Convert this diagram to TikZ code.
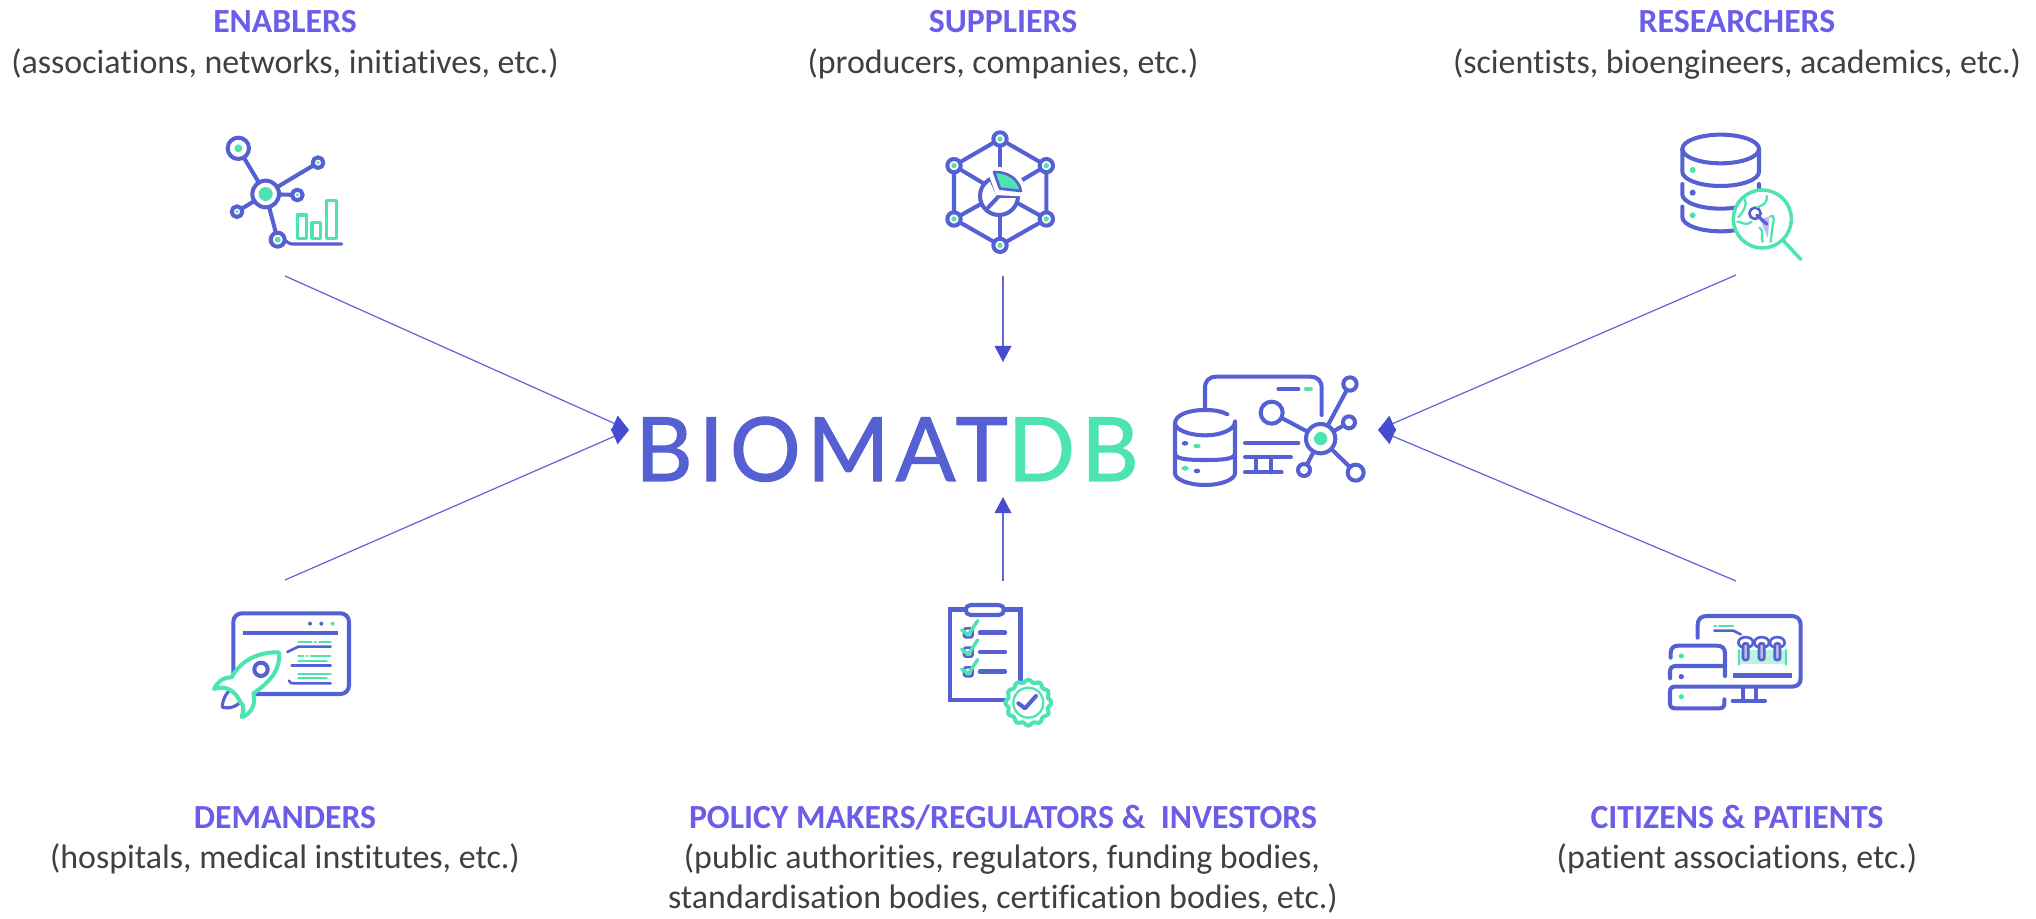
\documentclass[tikz,border=0pt]{standalone}
\usepackage{fontspec}
\setmainfont[Ligatures=NoCommon]{Carlito}
\newfontfamily\logofont[LetterSpace=7,FakeBold=1.2]{Lato}
\usetikzlibrary{arrows.meta}
\definecolor{iconblue}{RGB}{85,97,210}
\definecolor{icongreen}{RGB}{78,228,178}
\definecolor{titleblue}{RGB}{107,93,232}
\definecolor{subgray}{RGB}{64,64,64}
\definecolor{tipblue}{RGB}{68,76,208}
\definecolor{implant}{RGB}{184,190,236}
\tikzset{
  titletext/.style={anchor=base,inner sep=0pt,text=titleblue,font=\fontsize{9.6pt}{11pt}\selectfont\bfseries},
  subtext/.style={anchor=base,inner sep=0pt,text=subgray,font=\fontsize{9.65pt}{11pt}\selectfont},
  link/.style={draw=tipblue!85,line width=.35pt,-{Triangle[length=4.6pt,width=4.8pt,color=tipblue]}},
  iconline/.style={draw=iconblue,line width=1.15pt,line cap=round,line join=round},
  iconthin/.style={draw=iconblue,line width=.75pt,line cap=round,line join=round},
  greenline/.style={draw=icongreen,line width=1pt,line cap=round,line join=round},
  greenthin/.style={draw=icongreen,line width=.65pt,line cap=round,line join=round},
}
\begin{document}
\begin{tikzpicture}[x=0.01cm,y=-0.01cm]
    \useasboundingbox (0,0) rectangle (2036,919);

    % labels
    \node[titletext] (enablers) at (285,33) {ENABLERS};
    \node[subtext] (enablerssub) at (285,74) {(associations, networks, initiatives, etc.)};
    \node[titletext] (suppliers) at (1003,33) {SUPPLIERS};
    \node[subtext] (supplierssub) at (1003,74) {(producers, companies, etc.)};
    \node[titletext] (researchers) at (1737,33) {RESEARCHERS};
    \node[subtext] (researcherssub) at (1737,74) {(scientists, bioengineers, academics, etc.)};
    \node[titletext] (demanders) at (285,828) {DEMANDERS};
    \node[subtext] (demanderssub) at (285,869) {(hospitals, medical institutes, etc.)};
    \node[titletext] (policy) at (1003,828) {POLICY MAKERS/REGULATORS \&\ \ INVESTORS};
    \node[subtext] (policysuba) at (1002,869) {(public authorities, regulators, funding bodies,};
    \node[subtext] (policysubb) at (1003,908) {standardisation bodies, certification bodies, etc.)};
    \node[titletext] (citizens) at (1737,828) {CITIZENS \& PATIENTS};
    \node[subtext] (citizenssub) at (1737,869) {(patient associations, etc.)};

    % logo
    \node[anchor=base,inner sep=0pt,text=iconblue,font=\logofont\fontsize{25.2pt}{27pt}\selectfont] (logo) at (887,481) {BIOMAT\textcolor{icongreen}{DB}};

    % connectors
    \coordinate (hubleft) at (629,430);
    \coordinate (hubright) at (1378,430);
    \coordinate (hubtop) at (1003,362);
    \coordinate (hubbottom) at (1003,497);
    \coordinate (enablersout) at (285,276);
    \coordinate (demandersout) at (285,580);
    \coordinate (researchersout) at (1736,275);
    \coordinate (citizensout) at (1736,581);
    \coordinate (suppliersout) at (1003,276);
    \coordinate (policyout) at (1003,581);
    \draw[link] (enablersout) -- (hubleft);
    \draw[link] (demandersout) -- (hubleft);
    \draw[link] (researchersout) -- (hubright);
    \draw[link] (citizensout) -- (hubright);
    \draw[link] (suppliersout) -- (hubtop);
    \draw[link] (policyout) -- (hubbottom);

    % enablers icon
    \begin{scope}[shift={(180,110)},scale=1/3]
        \foreach \px/\py/\pr/\pg in {175/115/32/12, 414/158/16/5, 352/255/16/5, 171/305/16/5, 293/389/21/9} {
            \draw[iconline] (257,252) -- (\px,\py);
            \draw[iconline,fill=white] (\px,\py) circle (\pr);
            \fill[icongreen] (\px,\py) circle (\pg);
        }
        \draw[iconline,fill=white] (257,252) circle (40);
        \fill[icongreen] (257,252) circle (21);
        \draw[iconline,line width=.9pt] (316,392) .. controls (330,402) .. (345,402) -- (485,402);
        \draw[greenline] (352,315) rectangle (380,385);
        \draw[greenline] (396,338) rectangle (422,385);
        \draw[greenline] (440,272) rectangle (470,385);
    \end{scope}

    % suppliers icon
    \begin{scope}[shift={(920,110)},scale=1/3]
        \draw[iconline] (240,87) -- (379,167) -- (379,327) -- (240,406) -- (102,327) -- (102,167) -- cycle;
        \foreach \px/\py in {240/87, 379/167, 379/327, 240/406, 102/327, 102/167} {
            \draw[iconline] (240,250) -- (\px,\py);
            \draw[iconline,fill=white] (\px,\py) circle (20);
            \fill[icongreen] (\px,\py) circle (8);
        }
        \draw[iconline,fill=white] (237,258) circle (57);
        \draw[iconline] (237,258) -- (205,292);
        \draw[iconline] (237,258) -- (292,258);
        \draw[iconline] (237,258) -- (212,205);
        \draw[white,line width=3pt,fill=white] (240,240) -- (220,186) .. controls (262,185) and (295,205) .. (303,243) -- cycle;
        \draw[iconthin,fill=icongreen] (240,236) -- (222,186) .. controls (262,185) and (295,205) .. (303,243) -- cycle;
    \end{scope}

    % researchers icon
    \begin{scope}[shift={(1650,110)},scale=1/3]
        \draw[iconline] (212,117) circle[x radius=115,y radius=43];
        \draw[iconline] (97,117) -- (97,185) .. controls (97,209) and (149,228) .. (212,228) .. controls (275,228) and (327,209) .. (327,185) -- (327,117);
        \draw[iconline] (97,222) -- (97,253) .. controls (97,277) and (149,296) .. (212,296) .. controls (275,296) and (327,277) .. (327,253) -- (327,222);
        \draw[iconline] (97,290) -- (97,321) .. controls (97,345) and (149,364) .. (212,364) .. controls (275,364) and (327,345) .. (327,321) -- (327,290);
        \fill[icongreen] (128,180) circle (9);
        \fill[iconblue] (128,248) circle (9);
        \fill[icongreen] (128,316) circle (9);
        \draw[greenline,fill=white] (337,327) circle (87);
        \draw[greenline] (400,392) -- (452,448);
        \fill[implant] (330,328) -- (358,320) -- (354,385) -- cycle;
        \draw[iconthin] (315,310) circle (17);
        \draw[iconthin,line width=.9pt] (320,315) -- (350,342);
        \draw[greenthin] (350,258) .. controls (352,280) and (340,285) .. (322,292);
        \draw[greenthin] (285,268) .. controls (292,285) and (280,305) .. (265,322);
        \draw[greenthin] (262,335) .. controls (275,335) and (285,350) .. (305,335);
        \draw[greenthin] (328,352) .. controls (345,365) and (330,380) .. (338,396);
        \draw[greenthin] (360,320) .. controls (375,310) and (372,335) .. (368,345) -- (362,396);
    \end{scope}

    % demanders icon
    \begin{scope}[shift={(190,590)},scale=1/3]
        \draw[iconline,rounded corners=2.4pt] (130,70) rectangle (477,312);
        \draw[iconline,line width=1.2pt,line cap=butt] (160,130) -- (445,130);
        \fill[iconblue] (360,101) circle (6);
        \fill[iconblue] (394,101) circle (6);
        \fill[icongreen] (428,101) circle (6);
        \draw[greenthin] (325,156) -- (365,156) (375,156) -- (378,156) (388,156) -- (422,156);
        \draw[iconthin] (292,186) -- (325,170) -- (422,170);
        \draw[greenthin] (325,198) -- (340,198) (350,198) -- (352,198) (362,198) -- (422,198);
        \draw[greenthin] (325,212) -- (410,212);
        \draw[iconthin] (305,227) -- (422,227);
        \draw[greenthin] (325,251) -- (422,251) (325,265) -- (410,265);
        \draw[iconthin] (297,272) .. controls (302,280) .. (312,280) -- (422,280);
        \draw[iconline,line width=.9pt,fill=white] (118,302) .. controls (100,320) and (97,340) .. (97,352) .. controls (125,357) and (142,347) .. (152,335);
        \draw[greenline,line width=1.15pt,fill=white] (267,187) .. controls (200,185) and (150,215) .. (125,262) .. controls (95,262) and (80,280) .. (72,297) .. controls (105,285) and (135,300) .. (150,335) .. controls (165,345) and (160,365) .. (155,381) .. controls (180,375) and (200,345) .. (190,310) .. controls (250,270) and (272,230) .. (267,187) -- cycle;
        \draw[iconline] (213,238) circle (20);
    \end{scope}

    % policy icon
    \begin{scope}[shift={(920,590)},scale=1/3]
        \draw[iconline,line width=1.25pt,line cap=butt,line join=miter] (90,58) rectangle (302,330);
        \draw[iconline,fill=white,rounded corners=1.4pt] (137,45) rectangle (252,75);
        \foreach \py in {128,186,245} {
            \draw[iconthin,rounded corners=.6pt] (132,\py-13) rectangle (158,\py+14);
            \draw[greenline] (125,\py-8) -- (145,\py+7) -- (173,\py-36);
            \draw[iconline,line width=1.25pt] (180,\py) -- (255,\py);
        }
        \draw[greenline,line width=1.15pt,fill=white] plot[smooth cycle,samples=72,domain=0:355] ({325+(65+4*cos(12*\x))*cos(\x)},{338+(65+4*cos(12*\x))*sin(\x)});
        \draw[greenthin] (325,338) circle (45);
        \draw[iconline] (295,340) -- (315,355) -- (348,318);
    \end{scope}

    % citizens icon
    \begin{scope}[shift={(1650,590)},scale=1/3]
        \draw[iconline] (143,143) -- (143,105) .. controls (143,88) and (153,78) .. (170,78) -- (425,78) .. controls (442,78) and (452,88) .. (452,105) -- (452,265) .. controls (452,282) and (442,290) .. (425,290) -- (75,290) .. controls (65,290) and (60,295) .. (60,305) -- (60,340) .. controls (60,350) and (65,355) .. (75,355) -- (208,355) .. controls (218,355) and (223,350) .. (223,340) -- (223,328);
        \draw[iconline] (62,203) -- (62,190) .. controls (62,175) and (70,167) .. (85,167) -- (200,167) .. controls (217,167) and (225,175) .. (225,190) -- (225,258);
        \draw[iconline] (60,265) -- (60,245) .. controls (60,235) and (65,228) .. (78,228) -- (225,228);
        \draw[iconline] (278,295) -- (278,330) (318,295) -- (318,330) (248,332) -- (345,332);
        \draw[iconline,line cap=butt,line width=1.25pt] (248,256) -- (425,256);
        \fill[icongreen] (94,198) circle (8);
        \fill[iconblue] (94,260) circle (8);
        \fill[icongreen] (94,320) circle (8);
        \draw[greenthin] (193,108) -- (198,108) (207,108) -- (250,108);
        \draw[iconthin] (193,122) -- (250,122) -- (272,133);
        \fill[icongreen!40] (266,180) rectangle (408,222);
        \draw[greenthin] (266,180) -- (266,224) (408,180) -- (408,224);
        \foreach \px in {287,335,382} {
            \draw[iconthin,fill=white] (\px-22,158) .. controls (\px-22,136) and (\px+22,136) .. (\px+22,158) .. controls (\px+22,178) and (\px-22,178) .. (\px-22,158) -- cycle;
            \draw[iconthin,fill=implant,rounded corners=.6pt] (\px-8,160) rectangle (\px+8,210);
        }
    \end{scope}

    % logo icon
    \begin{scope}[shift={(1150,360)},scale=1/3]
        \draw[iconline] (165,145) -- (165,85) .. controls (165,62) and (177,50) .. (200,50) -- (480,50) .. controls (503,50) and (515,62) .. (515,85) -- (515,165);
        \draw[iconline] (232,163) .. controls (210,152) and (190,150) .. (165,150) .. controls (115,150) and (75,165) .. (75,190) .. controls (75,208) and (115,226) .. (165,226) .. controls (215,226) and (255,208) .. (255,185);
        \draw[iconline] (75,190) -- (75,340) .. controls (75,358) and (115,375) .. (165,375) .. controls (215,375) and (255,358) .. (255,340) -- (255,185);
        \draw[iconline] (75,280) .. controls (75,298) and (115,300) .. (165,300) .. controls (215,300) and (255,298) .. (255,280);
        \fill[iconblue] (105,250) circle[x radius=10,y radius=7];
        \fill[icongreen] (141,258) circle[x radius=11,y radius=7];
        \fill[icongreen] (105,325) circle[x radius=11,y radius=7];
        \fill[iconblue] (141,333) circle[x radius=10,y radius=7];
        \draw[iconline] (385,87) -- (445,87);
        \draw[greenline,line width=1.25pt] (468,87) -- (482,87);
        \draw[iconline] (285,250) -- (445,250) (285,291) -- (423,291) (285,337) -- (395,337);
        \draw[iconline] (317,291) -- (317,337) (362,291) -- (362,337);
        \foreach \px/\py/\pr in {365/158/33, 600/72/20, 597/187/18, 462/330/18, 617/338/24} {
            \draw[iconline] (512,236) -- (\px,\py);
            \draw[iconline,fill=white] (\px,\py) circle (\pr);
        }
        \draw[iconline,fill=white] (512,236) circle (44);
        \fill[icongreen] (512,236) circle (20);
    \end{scope}
\end{tikzpicture}
\end{document}
